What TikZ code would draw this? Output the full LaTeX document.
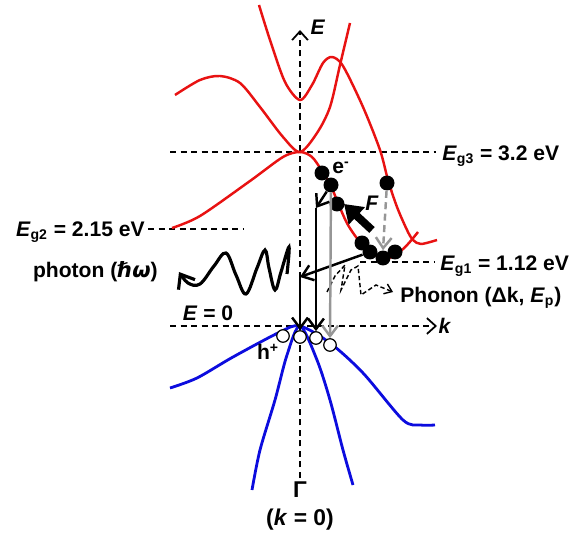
\documentclass[tikz,border=0pt]{standalone}
\usepackage{fontspec}
\setmainfont{Liberation Sans}
\newfontfamily\djv{DejaVu Sans}
\usetikzlibrary{arrows.meta}
\definecolor{bandred}{RGB}{232,18,18}
\definecolor{bandblue}{RGB}{12,12,222}
\definecolor{trgray}{RGB}{150,150,150}

\begin{document}
\begin{tikzpicture}[x=0.02cm, y=-0.02cm,
  lbl/.style={font=\bfseries\fontsize{12}{14}\selectfont, inner sep=0pt},
  axis/.style={line width=1pt, dash pattern=on 3.5pt off 2.5pt, -{Straight Barb[length=5pt,width=9pt]}},
  lvl/.style={line width=1pt, dash pattern=on 3.5pt off 2.5pt},
  cb/.style={bandred, line width=1.4pt},
  vb/.style={bandblue, line width=1.6pt},
  elec/.style={circle, fill=black, inner sep=0pt, minimum size=0.3cm},
  hole/.style={circle, draw, fill=white, line width=0.7pt, inner sep=0pt, minimum size=0.25cm},
  arr/.style={-{Straight Barb[length=6pt,width=9pt]}, line width=1.4pt},
  garr/.style={arr, trgray}
]
\useasboundingbox (0,0) rectangle (572,537);

% axes and gap levels
\coordinate (ybot) at (300,478);
\coordinate (ytop) at (300,30);
\coordinate (kl) at (170,326);
\coordinate (kr) at (437,326);
\draw[axis] (ybot) -- (ytop);
\draw[axis] (kl) -- (kr);
\coordinate (g3l) at (170,152);
\coordinate (g3r) at (436,152);
\coordinate (g2l) at (148,229);
\coordinate (g2r) at (243,229);
\coordinate (g1l) at (360,262);
\coordinate (g1r) at (434,262);
\draw[lvl] (g3l) -- (g3r);
\draw[lvl] (g2l) -- (g2r);
\draw[lvl] (g1l) -- (g1r);

% conduction bands
\draw[cb] plot[smooth] coordinates {(259,5) (270,40) (285,82) (300,100) (312,85) (323,63) (332,57) (343,66) (363,107) (380,150) (388,180) (397,207) (407,230) (413,240) (421,244) (437,240)};
\draw[cb] plot[smooth] coordinates {(175,95) (200,80) (220,76) (240,83) (260,107) (283,137) (300,152) (317,133) (330,107) (340,65) (350,23)};
\draw[cb] plot[smooth] coordinates {(172,228) (200,216) (250,181) (283,157) (300,152) (312,157) (322,171) (331,186) (338,203) (348,225) (362,244) (383,259) (398,253) (408,244) (418,232)};

% valence bands
\draw[vb] plot[smooth] coordinates {(170,388) (197,378) (233,357) (280,332) (300,326) (330,343) (363,373) (403,420) (420,425) (435,425)};
\draw[vb] plot[smooth] coordinates {(252,490) (260,450) (275,400) (287,355) (300,326) (317,360) (330,400) (343,450) (353,485)};

% photon and phonon
\draw[line width=1.8pt, -{Straight Barb[length=7pt,width=11pt]}] plot[smooth, tension=0.6] coordinates {(287,274) (289,247) (281,272) (275,290) (269,268) (265,250) (257,268) (246,294) (236,275) (226,253) (214,266) (200,284) (188,283) (179,272)};
\draw[line width=0.8pt, dash pattern=on 2.5pt off 1.5pt, -{Straight Barb[length=4pt,width=6pt]}] (327,292) -- (335,276) -- (345,265) -- (341,290) -- (351,270) -- (358,266) -- (361,295) -- (376,285) -- (393,292);

% carriers
\node[elec] (e1) at (322,173) {};
\node[elec] (e2) at (331,185) {};
\node[elec] (e3) at (337,204) {};
\node[elec] (e4) at (362,243) {};
\node[elec] (e5) at (370,252) {};
\node[elec] (e6) at (383,258) {};
\node[elec] (e7) at (395,252) {};
\node[elec] (e8) at (387,183) {};
\node[hole] (h1) at (283,336) {};
\node[hole] (h2) at (300,337) {};
\node[hole] (h3) at (316,338) {};
\node[hole] (h4) at (330,345) {};

% transitions
\coordinate (c1) at (316,208);
\coordinate (c2) at (300,277);
\draw[arr] (e2) -- (c1);
\draw[arr] (c1) -- (h3.north);
\draw[arr] (e5) -- (c2);
\draw[arr] (c2) -- (h2.north);
\draw[garr] (e2) -- (h4.north);
\draw[garr, dash pattern=on 4pt off 2.5pt] (e8) -- (e6.north);
\coordinate (ft) at (372,230);
\coordinate (fh) at (344,204);
\draw[line width=4.5pt, -{Triangle[length=10pt,width=13pt]}] (ft) -- (fh);

% labels
\node[lbl] (lE) at (318,27) {\textit{E}};
\node[lbl] (lk) at (445,326) {\textit{k}};
\node[lbl, anchor=west] (lg3) at (442,156) {\textit{E}\textsubscript{g3} = 3.2 eV};
\node[lbl, anchor=east] (lg2) at (145,232) {\textit{E}\textsubscript{g2} = 2.15 eV};
\node[lbl, anchor=west] (lg1) at (440,266) {\textit{E}\textsubscript{g1} = 1.12 eV};
\node[lbl, anchor=east] (lph) at (158,272) {photon ({\djv\itshape ℏω})};
\node[lbl, anchor=west] (lpn) at (400,298) {Phonon (Δk, \textit{E}\textsubscript{p})};
\node[lbl] (lE0) at (208,313) {\textit{E} = 0};
\node[lbl] (lF) at (372,203) {\textit{F}};
\node[lbl] (le) at (341,168) {e\textsuperscript{-}};
\node[lbl] (lh) at (268,352) {h\textsuperscript{+}};
\node[lbl, font=\bfseries\fontsize{13}{15}\selectfont] (lG) at (300,490) {Γ};
\node[lbl, font=\bfseries\fontsize{13}{15}\selectfont] (lk0) at (300,520) {(\textit{k} = 0)};
\end{tikzpicture}
\end{document}
